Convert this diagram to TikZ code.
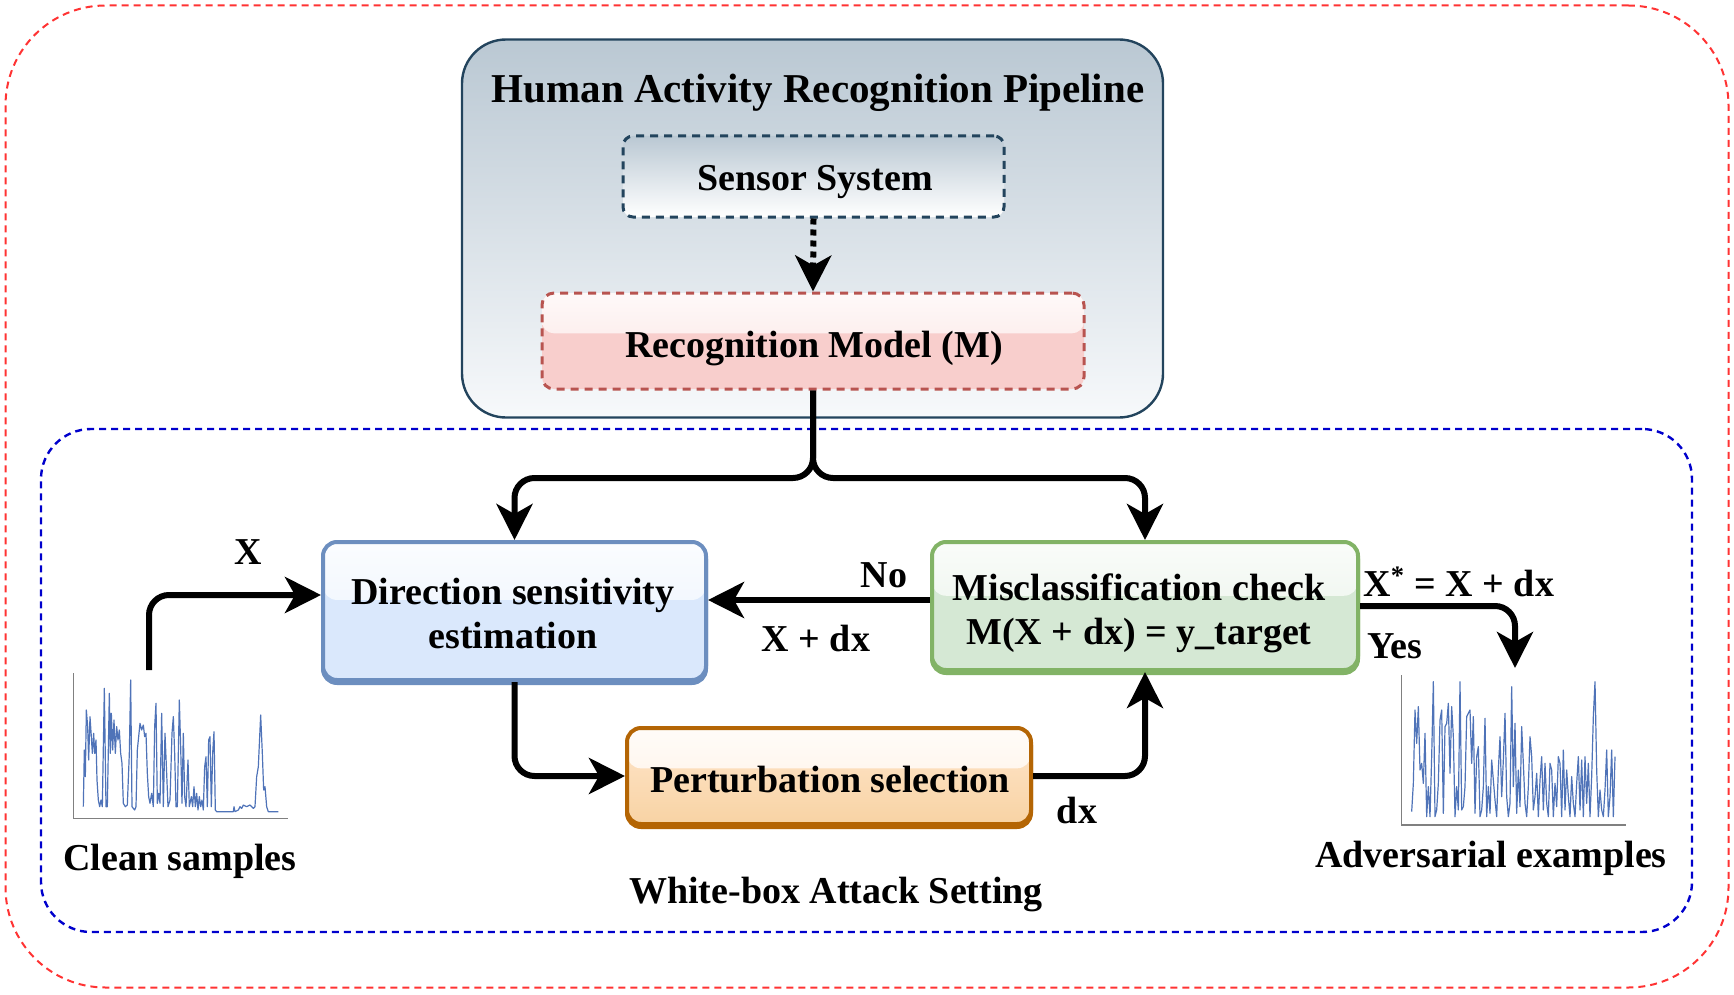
\documentclass[tikz,border=0pt]{standalone}
\usepackage{fontspec}
\setmainfont{Liberation Serif}
\usetikzlibrary{arrows.meta,calc}
\definecolor{reddash}{HTML}{FF3333}
\definecolor{bluedash}{HTML}{0000CC}
\definecolor{pipeb}{HTML}{23445D}
\definecolor{pipetop}{HTML}{BAC8D3}
\definecolor{pipebot}{HTML}{F7F9FB}
\definecolor{recb}{HTML}{B85450}
\definecolor{recf}{HTML}{F8CECC}
\definecolor{dirb}{HTML}{6C8EBF}
\definecolor{dirf}{HTML}{DAE8FC}
\definecolor{misb}{HTML}{82B366}
\definecolor{misf}{HTML}{D5E8D4}
\definecolor{perb}{HTML}{B46504}
\definecolor{pertop}{HTML}{FFE6CC}
\definecolor{perbot}{HTML}{F8D3A4}
\definecolor{sigblue}{HTML}{4F73B8}
\newcommand\myfont{\fontsize{19}{22}\selectfont\bfseries}
\newcommand\mytitlefont{\fontsize{20.5}{24}\selectfont\bfseries}
\begin{document}
\begin{tikzpicture}[x=0.5pt,y=-0.5pt,
  txt/.style={font=\myfont, inner sep=0pt, align=center},
  arr/.style={line width=3pt, -{Stealth[length=18pt,width=18pt,inset=5pt]}, rounded corners=10pt},
  box/.style={rounded corners=7pt, line width=2pt, inner sep=0pt},
  glass/.style={path picture={\shade[top color=white!88!#1, bottom color=white!40!#1] (path picture bounding box.north west) rectangle ($(path picture bounding box.north east)!0.42!(path picture bounding box.south east)$);}},
  shadowed/.style={preaction={draw=#1, line width=2pt, transform canvas={yshift=-1.5pt}}},
  sig/.style={draw=sigblue, line width=0.6pt, line join=round},
  axisline/.style={draw=gray, line width=0.6pt}]
\useasboundingbox (0,0) rectangle (1734,995);

% frames
\node[draw=reddash, line width=1pt, dash pattern=on 3.5pt off 2.5pt, rounded corners=50pt,
      minimum width=861.5pt, minimum height=491pt, inner sep=0pt] (outer) at (867,496.5) {};
\node[draw=bluedash, line width=1.2pt, dash pattern=on 3.5pt off 2.5pt, rounded corners=25pt,
      minimum width=825.5pt, minimum height=251.5pt, inner sep=0pt] (inner) at (866.5,680.5) {};

% pipeline
\node[draw=pipeb, line width=1.2pt, rounded corners=22pt, minimum width=350.5pt, minimum height=189pt,
      top color=pipetop, bottom color=pipebot, inner sep=0pt] (pipe) at (812.5,228.5) {};
\node[txt, font=\mytitlefont] (title) at (818,92.5) {Human Activity Recognition Pipeline};
\node[box, draw=pipeb, line width=1.5pt, dash pattern=on 4pt off 3pt, rounded corners=5pt,
      top color=pipetop, bottom color=white, minimum width=190.5pt, minimum height=40.5pt] (sensor) at (813.5,176.5) {};
\node[txt] (sensortxt) at (815,182) {Sensor System};
\node[box, draw=recb, line width=1.5pt, dash pattern=on 4pt off 3pt, rounded corners=6pt,
      fill=recf, glass=recf, minimum width=271pt, minimum height=48pt] (rec) at (813,341) {};
\node[txt] (rectxt) at (814,348.5) {Recognition Model (M)};
\draw[line width=3pt, dash pattern=on 3pt off 2.5pt, -{Stealth[length=18pt,width=18pt,inset=5pt]}] (sensor.south) -- (rec.north);

% attack boxes
\node[box, draw=dirb, fill=dirf, glass=dirf, shadowed=dirb, minimum width=191.5pt, minimum height=69pt] (dir) at (514.5,611) {};
\node[txt] (dirtxt) at (513,613.5) {Direction sensitivity\\estimation};
\node[box, draw=misb, fill=misf, glass=misf, shadowed=misb, minimum width=213pt, minimum height=64pt] (mis) at (1145,606) {};
\node[txt] (mistxt) at (1139,613.5) {Misclassification check\\M(X + dx) = y\_target};
\node[box, draw=perb, top color=pertop, bottom color=perbot, glass=pertop, shadowed=perb, minimum width=202pt, minimum height=48pt] (pert) at (829,776) {};
\node[txt] (perttxt) at (830,779.5) {Perturbation selection};

% connectors
\coordinate (split) at (813,478);
\draw[arr] (rec.south) -- (split) -| (dir.north);
\draw[arr] (rec.south) -- (split) -| (mis.north);
\draw[arr] ($(mis.west)+(0,-6)$) -- ($(dir.east)+(0,-11)$);
\draw[arr] (dir.south) |- (pert.west);
\draw[arr] (pert.east) -| (mis.south);
\coordinate (cs) at (149,670);
\draw[arr] (cs) |- ($(dir.west)+(0,-16)$);
\coordinate (adv) at (1515,668);
\draw[arr] (mis.east) -| (adv);

% labels
\node[txt] (lx) at (248,552) {X};
\node[txt] (lno) at (884,575) {No};
\node[txt] (lxdx) at (816,638) {X + dx};
\node[txt] (ldx) at (1077,810) {dx};
\node[txt, anchor=west] (lstar) at (1363,582) {X\textsuperscript{*} = X + dx};
\node[txt, anchor=west] (lyes) at (1367,646) {Yes};
\node[txt] (lclean) at (180,861.5) {Clean samples};
\node[txt] (ladv) at (1491,858.5) {Adversarial examples};
\node[txt] (lwb) at (836,894.5) {White-box Attack Setting};

% clean samples plot
\begin{scope}[shift={(50,520)}, scale=1/3]
\draw[axisline] (70,460) -- (70,895) -- (715,895);
\draw[sig] plot coordinates {(100,860)(103,690)(106,770)(109,570)(113,620)(116,720)(120,590)(124,650)(127,700)(131,640)(134,700)(138,660)(141,780)(145,840)(149,860)(153,840)(157,860)(163,505)(168,860)(172,860)(178,520)(181,700)(184,580)(188,690)(192,600)(196,700)(200,620)(204,660)(208,630)(212,700)(216,730)(220,850)(226,860)(232,855)(238,700)(242,480)(246,860)(254,870)(258,860)(262,690)(266,650)(270,610)(275,630)(280,615)(284,650)(288,640)(292,760)(296,830)(300,850)(305,820)(310,860)(314,620)(318,550)(322,850)(326,820)(330,850)(335,580)(340,860)(345,640)(350,760)(354,860)(360,840)(366,640)(370,590)(374,700)(378,860)(382,860)(388,540)(392,680)(396,850)(400,640)(404,830)(408,860)(414,720)(418,860)(424,830)(428,860)(432,800)(436,860)(440,820)(444,870)(448,830)(452,860)(456,840)(460,870)(464,740)(468,710)(472,860)(476,660)(480,650)(484,860)(488,700)(492,635)(496,870)(500,875)(550,875)(552,860)(555,875)(565,870)(570,860)(575,865)(580,855)(590,860)(600,855)(610,865)(615,860)(620,770)(625,740)(632,585)(637,700)(641,810)(645,800)(650,860)(655,875)(685,875)};
\end{scope}

% adversarial plot
\begin{scope}[shift={(1360,530)}, scale=1/3]
\draw[axisline] (125,435) -- (125,885) -- (797,885);
\draw[sig] (155,845) \foreach \v [count=\i] in {760,540,640,530,720,700,760,610,860,770,860,680,455,860,840,760,570,540,850,590,580,520,730,530,620,860,770,840,455,840,830,770,560,550,540,700,560,850,680,650,860,840,770,565,860,770,850,690,750,810,860,720,620,800,690,550,800,860,820,470,770,580,850,720,830,590,700,820,860,770,620,680,840,800,730,860,750,680,840,700,820,860,700,720,860,760,830,680,700,860,660,840,720,800,860,740,820,860,760,680,840,690,860,680,820,700,860,740,560,455,720,860,780,840,860,780,660,860,800,660,860,680} { -- ({155+5*\i},\v) };
\end{scope}
\end{tikzpicture}
\end{document}
